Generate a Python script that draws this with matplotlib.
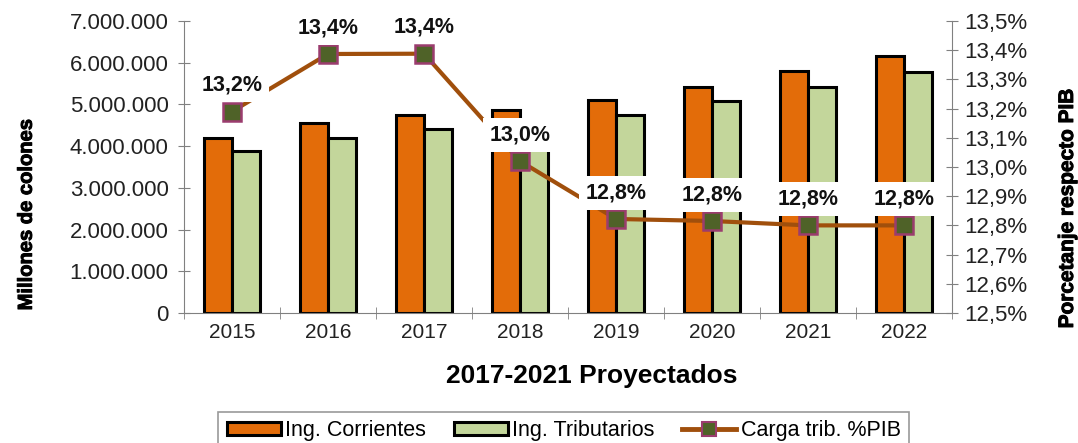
import matplotlib
matplotlib.use("Agg")
import matplotlib.pyplot as plt
import numpy as np
from matplotlib.lines import Line2D
from matplotlib.patches import Patch
import matplotlib.patheffects as pe

plt.rcParams['font.family'] = ['Liberation Sans', 'DejaVu Sans']

years = ["2015", "2016", "2017", "2018", "2019", "2020", "2021", "2022"]
ing_corrientes = [4200000, 4560000, 4750000, 4870000, 5110000, 5420000, 5790000, 6160000]
ing_tributarios = [3880000, 4200000, 4410000, 4550000, 4750000, 5080000, 5420000, 5780000]
carga_pib = [13.19, 13.387, 13.388, 13.02, 12.822, 12.815, 12.80, 12.80]
carga_labels = ["13,2%", "13,4%", "13,4%", "13,0%", "12,8%", "12,8%", "12,8%", "12,8%"]
left_ticks = [0, 1000000, 2000000, 3000000, 4000000, 5000000, 6000000, 7000000]
right_ticks = [12.5, 12.6, 12.7, 12.8, 12.9, 13.0, 13.1, 13.2, 13.3, 13.4, 13.5]

c_orange = "#E36C09"
c_green = "#C3D69B"
c_line = "#A04F0C"
c_mface = "#4F6228"
c_medge = "#9B3C6E"
c_axis = "#808080"
c_text = "#222222"

fig = plt.figure(figsize=(10.78, 4.43), dpi=100)
ax = fig.add_axes([0.1707, 0.2935, 0.7124, 0.6591])

x = np.arange(len(years))
w = 0.29
ax.bar(x - w/2, ing_corrientes, w, color=c_orange, edgecolor="black", linewidth=2.2, zorder=2)
ax.bar(x + w/2, ing_tributarios, w, color=c_green, edgecolor="black", linewidth=2.2, zorder=2)

ax.set_xlim(-0.5, len(years) - 0.5)
ax.set_ylim(0, 7000000)
ax.set_yticks(left_ticks)
ax.set_yticklabels([f"{v:,}".replace(",", ".") for v in left_ticks], fontsize=16, color=c_text)
ax.set_xticks(x)
ax.set_xticklabels(years, fontsize=15, color=c_text)
ax.set_xticks(np.arange(-0.5, len(years)), minor=True)
ax.tick_params(axis='x', which='major', length=0, pad=7)
ax.tick_params(axis='x', which='minor', length=8, direction='inout', color=c_axis)
ax.tick_params(axis='y', length=8, direction='inout', color=c_axis, pad=7)
for s in ["top", "right"]:
    ax.spines[s].set_visible(False)
for s in ["left", "bottom"]:
    ax.spines[s].set_color(c_axis)
thick = [pe.withStroke(linewidth=0.7, foreground="black")]
ax.set_ylabel("Millones de colones", fontsize=14.5, fontweight="bold", path_effects=thick)
ax.yaxis.set_label_coords(-0.193, 0.336)
ax.set_xlabel("2017-2021 Proyectados", fontsize=19, fontweight="bold", labelpad=17)
ax.xaxis.set_label_coords(0.531, -0.175)

ax2 = ax.twinx()
ax2.plot(x, carga_pib, color=c_line, linewidth=3, marker="s", markersize=13,
         markerfacecolor=c_mface, markeredgecolor=c_medge, markeredgewidth=1.8, zorder=3)
ax2.set_ylim(12.5, 13.5)
ax2.set_yticks(right_ticks)
ax2.set_yticklabels([f"{v:.1f}%".replace(".", ",") for v in right_ticks], fontsize=16, color=c_text)
ax2.tick_params(axis='y', length=8, direction='inout', color=c_axis, pad=5)
for s in ["top", "left", "bottom"]:
    ax2.spines[s].set_visible(False)
ax2.spines["right"].set_color(c_axis)
ax2.set_ylabel("Porcetanje respecto PIB", fontsize=15, fontweight="bold", path_effects=thick)
ax2.yaxis.set_label_coords(1.138, 0.36)

for xi, yv, lab in zip(x, carga_pib, carga_labels):
    ax2.annotate(lab, (xi, yv), xytext=(0, 19), textcoords="offset points",
                 ha="center", va="center", fontsize=15.5, fontweight="bold", color="#111111",
                 bbox=dict(boxstyle="square,pad=0.3", facecolor="white", edgecolor="none"),
                 zorder=5)

handles = [
    Patch(facecolor=c_orange, edgecolor="black", linewidth=2.2, label="Ing. Corrientes"),
    Patch(facecolor=c_green, edgecolor="black", linewidth=2.2, label="Ing. Tributarios"),
    Line2D([0], [0], color=c_line, linewidth=3.5, marker="s", markersize=10,
           markerfacecolor=c_mface, markeredgecolor=c_medge, markeredgewidth=1.5,
           label="Carga trib. %PIB"),
]
leg = fig.legend(handles=handles, loc="upper center", bbox_to_anchor=(0.523, 0.071), ncol=3,
                 fontsize=15.5, frameon=True, fancybox=False, edgecolor=c_axis,
                 handlelength=2.5, handleheight=0.55, handletextpad=0.2, columnspacing=1.3,
                 borderpad=0.4, borderaxespad=0)
leg.get_frame().set_linewidth(1.2)

fig.savefig("out.png", dpi=100)
